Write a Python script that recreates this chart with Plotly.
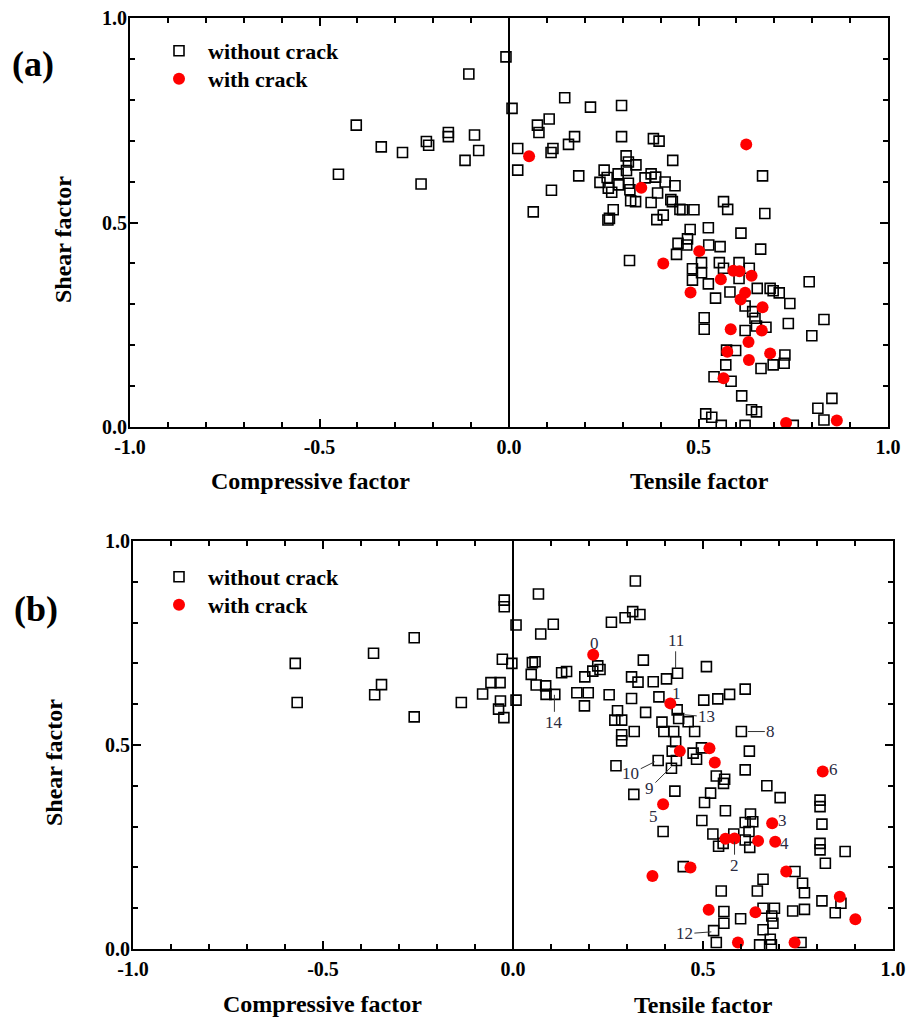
import plotly.graph_objects as go

# ---------------- data: panel (a) ----------------
a_sq_x = [-0.450, -0.403, -0.337, -0.281, -0.232, -0.218, -0.212, -0.160, -0.160, -0.116, -0.106, -0.091, -0.080,
          -0.008, 0.008,
          0.147, 0.215, 0.297, 0.075, 0.106, 0.079, 0.023, 0.023, 0.116, 0.111, 0.157, 0.173, 0.297, 0.381, 0.396,
          0.432, 0.112, 0.184, 0.064, 0.309, 0.315, 0.335, 0.251, 0.259, 0.288, 0.310, 0.240, 0.262, 0.271, 0.290,
          0.315, 0.319, 0.321, 0.334, 0.359, 0.375, 0.387, 0.392, 0.412, 0.438, 0.375, 0.275, 0.265, 0.261, 0.390,
          0.407, 0.427, 0.431, 0.458, 0.488, 0.451, 0.566, 0.577, 0.669, 0.675, 0.478, 0.526, 0.612, 0.471, 0.446,
          0.469, 0.527, 0.557, 0.664, 0.442,
          0.318, 0.484, 0.508, 0.484, 0.508, 0.526, 0.555, 0.566, 0.583, 0.607, 0.607, 0.634, 0.655, 0.689, 0.713,
          0.697, 0.792, 0.741, 0.545, 0.623, 0.643, 0.649, 0.653, 0.678, 0.515, 0.515, 0.623, 0.737, 0.831, 0.799,
          0.598, 0.574, 0.572, 0.541, 0.586, 0.728, 0.726, 0.697, 0.665, 0.614, 0.640, 0.653, 0.852, 0.815, 0.831,
          0.519, 0.535, 0.560, 0.623, 0.750]
a_sq_y = [0.618, 0.738, 0.685, 0.671, 0.594, 0.698, 0.689, 0.720, 0.710, 0.652, 0.863, 0.714, 0.676,
          0.905, 0.779,
          0.805, 0.782, 0.786, 0.738, 0.753, 0.720, 0.681, 0.628, 0.681, 0.671, 0.691, 0.710, 0.710, 0.705, 0.699,
          0.652, 0.579, 0.614, 0.526, 0.663, 0.648, 0.641, 0.628, 0.610, 0.619, 0.627, 0.598, 0.584, 0.574, 0.592,
          0.596, 0.580, 0.553, 0.551, 0.609, 0.619, 0.611, 0.572, 0.599, 0.590, 0.549, 0.531, 0.510, 0.506, 0.507,
          0.518, 0.556, 0.551, 0.531, 0.531, 0.532, 0.551, 0.532, 0.614, 0.522, 0.483, 0.487, 0.474, 0.460, 0.449,
          0.445, 0.445, 0.441, 0.435, 0.422,
          0.407, 0.387, 0.402, 0.359, 0.377, 0.350, 0.402, 0.388, 0.330, 0.402, 0.363, 0.388, 0.339, 0.339, 0.328,
          0.333, 0.355, 0.302, 0.315, 0.296, 0.282, 0.266, 0.247, 0.244, 0.267, 0.239, 0.236, 0.253, 0.263, 0.223,
          0.187, 0.188, 0.152, 0.123, 0.112, 0.176, 0.156, 0.152, 0.143, 0.076, 0.042, 0.037, 0.070, 0.046, 0.017,
          0.032, 0.024, 0.004, 0.004, 0.004]
a_cr_x = [0.053, 0.349, 0.626, 0.502, 0.407, 0.479, 0.559, 0.592, 0.608, 0.640, 0.623, 0.611, 0.669, 0.585,
          0.667, 0.632, 0.576, 0.633, 0.689, 0.566, 0.731, 0.865]
a_cr_y = [0.662, 0.585, 0.691, 0.430, 0.400, 0.329, 0.361, 0.382, 0.381, 0.370, 0.328, 0.312, 0.293, 0.239,
          0.236, 0.208, 0.184, 0.164, 0.180, 0.119, 0.010, 0.016]

# ---------------- data: panel (b) ----------------
b_sq_x = [-0.573, -0.568, -0.367, -0.346, -0.364, -0.260, -0.260, -0.136, -0.080, -0.058, -0.034, -0.033, -0.038,
          -0.024, -0.028, -0.023, -0.023, 0.008, -0.003, 0.008,
          0.067, 0.106, 0.073, 0.259, 0.295, 0.315, 0.334, 0.322, 0.051, 0.058, 0.048, 0.061, 0.086, 0.087, 0.110,
          0.128, 0.141, 0.168, 0.188, 0.198, 0.189, 0.210, 0.223, 0.229, 0.253, 0.312, 0.312, 0.329, 0.343, 0.369,
          0.404, 0.433, 0.509, 0.275, 0.268, 0.286, 0.319, 0.286, 0.286, 0.349, 0.384, 0.392, 0.432, 0.436, 0.461,
          0.397, 0.423, 0.478, 0.428, 0.419, 0.474, 0.483, 0.502, 0.539, 0.570, 0.611, 0.601, 0.622, 0.611, 0.382,
          0.271, 0.430, 0.417, 0.535, 0.557, 0.496,
          0.318, 0.426, 0.395, 0.554, 0.668, 0.703, 0.520, 0.504, 0.559, 0.625, 0.631, 0.611, 0.497, 0.526, 0.581,
          0.621, 0.611, 0.623, 0.541, 0.553, 0.808, 0.808, 0.813, 0.808, 0.808, 0.822, 0.874, 0.448, 0.742, 0.762,
          0.767, 0.658, 0.643, 0.548, 0.813, 0.863, 0.848, 0.555, 0.555, 0.599, 0.658, 0.688, 0.681, 0.684, 0.658,
          0.677, 0.736, 0.767, 0.528, 0.535, 0.649, 0.680, 0.758]
b_sq_y = [0.700, 0.604, 0.725, 0.648, 0.623, 0.763, 0.569, 0.604, 0.625, 0.653, 0.653, 0.608, 0.588,
          0.567, 0.710, 0.855, 0.839, 0.794, 0.700, 0.610,
          0.870, 0.796, 0.772, 0.801, 0.812, 0.827, 0.820, 0.902, 0.702, 0.704, 0.673, 0.647, 0.645, 0.624, 0.624,
          0.677, 0.680, 0.628, 0.596, 0.628, 0.667, 0.681, 0.694, 0.685, 0.623, 0.614, 0.667, 0.654, 0.708, 0.655,
          0.662, 0.676, 0.692, 0.584, 0.561, 0.561, 0.533, 0.525, 0.510, 0.580, 0.618, 0.556, 0.586, 0.565, 0.557,
          0.533, 0.533, 0.533, 0.508, 0.485, 0.480, 0.465, 0.610, 0.613, 0.624, 0.637, 0.533, 0.485, 0.439, 0.462,
          0.449, 0.462, 0.443, 0.424, 0.416, 0.493,
          0.379, 0.387, 0.288, 0.406, 0.400, 0.371, 0.382, 0.359, 0.339, 0.331, 0.312, 0.310, 0.315, 0.282, 0.282,
          0.288, 0.267, 0.249, 0.252, 0.259, 0.365, 0.349, 0.306, 0.259, 0.243, 0.210, 0.239, 0.202, 0.190, 0.161,
          0.138, 0.171, 0.142, 0.142, 0.118, 0.112, 0.089, 0.092, 0.063, 0.074, 0.100, 0.100, 0.081, 0.063, 0.047,
          0.024, 0.093, 0.097, 0.045, 0.016, 0.010, 0.010, 0.016]
b_cr_x = [0.211, 0.414, 0.439, 0.517, 0.531, 0.815, 0.395, 0.682, 0.690, 0.645, 0.559, 0.583, 0.367, 0.467,
          0.719, 0.515, 0.638, 0.860, 0.901, 0.592, 0.741]
b_cr_y = [0.721, 0.602, 0.485, 0.492, 0.457, 0.435, 0.355, 0.308, 0.263, 0.265, 0.270, 0.271, 0.179, 0.200,
          0.190, 0.096, 0.090, 0.128, 0.073, 0.016, 0.016]

# point labels in panel (b): text, anchor x, anchor y, arrow offset (px) or None
lab_text = ["0", "1", "2", "3", "4", "5", "6", "7", "8", "9", "10", "11", "12", "13", "14"]
lab_x = [0.215, 0.430, 0.583, 0.710, 0.714, 0.369, 0.843, 0.592, 0.618, 0.417, 0.373, 0.428, 0.522, 0.452, 0.109]
lab_y = [0.750, 0.627, 0.263, 0.316, 0.259, 0.324, 0.440, -0.031, 0.533, 0.447, 0.459, 0.688, 0.042, 0.574, 0.623]
lab_ax = [None, None, 0, None, None, None, None, None, 23, -22, -24, 0, -27, 22, 0]
lab_ay = [None, None, 24, None, None, None, None, None, 0, 22, 12, -28, 2, 2, 28]

W, H = 907, 1021
SERIF = "Liberation Serif"

fig = go.Figure()

def add_panel(sx, sy, cx, cy, xa, ya, leg_sq, leg_cr):
    fig.add_trace(go.Scatter(x=sx, y=sy, mode="markers", name="without crack", xaxis=xa, yaxis=ya,
                             legend=leg_sq,
                             marker=dict(symbol="square-open", size=10, color="black", line=dict(width=1.6, color="black"))))
    fig.add_trace(go.Scatter(x=cx, y=cy, mode="markers", name="with crack", xaxis=xa, yaxis=ya,
                             legend=leg_cr,
                             marker=dict(symbol="circle", size=12, color="#ff0000", line=dict(width=0))))

add_panel(a_sq_x, a_sq_y, a_cr_x, a_cr_y, "x", "y", "legend", "legend2")
add_panel(b_sq_x, b_sq_y, b_cr_x, b_cr_y, "x2", "y2", "legend3", "legend4")

tickfont = dict(family=SERIF, size=20, color="black", weight="bold")

def xaxis(dom, anchor):
    return dict(domain=dom, anchor=anchor, range=[-1, 1], tickvals=[-1, -0.5, 0, 0.5, 1],
                ticktext=["-1.0", "-0.5", "0.0", "0.5", "1.0"], ticks="inside", ticklen=8, tickwidth=1.5,
                tickcolor="black", showline=True, linewidth=2, linecolor="black", mirror="ticks",
                showgrid=False, zeroline=False, tickfont=tickfont, ticklabelstandoff=1, automargin=False,
                minor=dict(dtick=0.1, ticks="inside", ticklen=5, tickwidth=1.5, tickcolor="black", showgrid=False))

def yaxis(dom, anchor):
    return dict(domain=dom, anchor=anchor, range=[0, 1], tickvals=[0, 0.5, 1],
                ticktext=["0.0", "0.5", "1.0"], ticks="inside", ticklen=8, tickwidth=1.5,
                tickcolor="black", showline=True, linewidth=2, linecolor="black", mirror="ticks",
                showgrid=False, zeroline=False, tickfont=tickfont, ticklabelstandoff=-3, automargin=False,
                minor=dict(dtick=0.1, ticks="inside", ticklen=5, tickwidth=1.5, tickcolor="black", showgrid=False))

def px_x(p):
    return p / W

def px_y(p):
    return 1 - p / H

legfont = dict(family=SERIF, size=22, color="black", weight="bold")

def leg(xp, yp):
    return dict(x=px_x(xp), y=px_y(yp), xanchor="left", yanchor="top", font=legfont, itemwidth=48,
                bgcolor="rgba(0,0,0,0)", borderwidth=0, tracegroupgap=0)

fig.update_layout(
    width=W, height=H, margin=dict(l=0, r=0, t=0, b=0, autoexpand=False),
    paper_bgcolor="white", plot_bgcolor="white",
    xaxis=xaxis([px_x(130), px_x(888)], "y"),
    yaxis=yaxis([px_y(427), px_y(18)], "x"),
    xaxis2=xaxis([px_x(133), px_x(893)], "y2"),
    yaxis2=yaxis([px_y(949), px_y(541)], "x2"),
    legend=leg(150, 30), legend2=leg(150, 58),
    legend3=leg(150, 556), legend4=leg(150, 584),
    showlegend=True,
)

# vertical line at x = 0 in each panel
for xr, yr in [("x", "y domain"), ("x2", "y2 domain")]:
    fig.add_shape(type="line", xref=xr, yref=yr, x0=0, x1=0, y0=0, y1=1,
                  line=dict(color="black", width=2), layer="above")

titlefont = dict(family=SERIF, size=24, color="black", weight="bold")
ann = []
# axis titles
for txt, xp, yp in [("Compressive factor", 310, 481), ("Tensile factor", 699, 481),
                    ("Compressive factor", 322, 1004), ("Tensile factor", 703, 1005)]:
    ann.append(dict(text=txt, x=px_x(xp), y=px_y(yp), xref="paper", yref="paper", showarrow=False,
                    font=titlefont, xanchor="center", yanchor="middle"))
for yp, xp in [(240, 63), (763, 54)]:
    ann.append(dict(text="Shear factor", x=px_x(xp), y=px_y(yp), xref="paper", yref="paper", showarrow=False,
                    font=titlefont, textangle=-90, xanchor="center", yanchor="middle"))
# panel letters
for txt, xp, yp in [("(a)", 33, 64), ("(b)", 36, 609)]:
    ann.append(dict(text=txt, x=px_x(xp), y=px_y(yp), xref="paper", yref="paper", showarrow=False,
                    font=dict(family=SERIF, size=36, color="black", weight="bold"),
                    xanchor="center", yanchor="middle"))
# point labels in panel (b)
labfont = dict(family=SERIF, size=17, color="#2a2a40")
for t, lx, ly, ax, ay in zip(lab_text, lab_x, lab_y, lab_ax, lab_ay):
    if ax is None:
        ann.append(dict(text=t, x=lx, y=ly, xref="x2", yref="y2", showarrow=False, font=labfont))
    else:
        ann.append(dict(text=t, x=lx, y=ly, xref="x2", yref="y2", showarrow=True, ax=ax, ay=ay,
                        arrowhead=0, arrowwidth=1, arrowcolor="#333333", standoff=0, font=labfont))
fig.update_layout(annotations=ann)

fig.write_html("out.html")
